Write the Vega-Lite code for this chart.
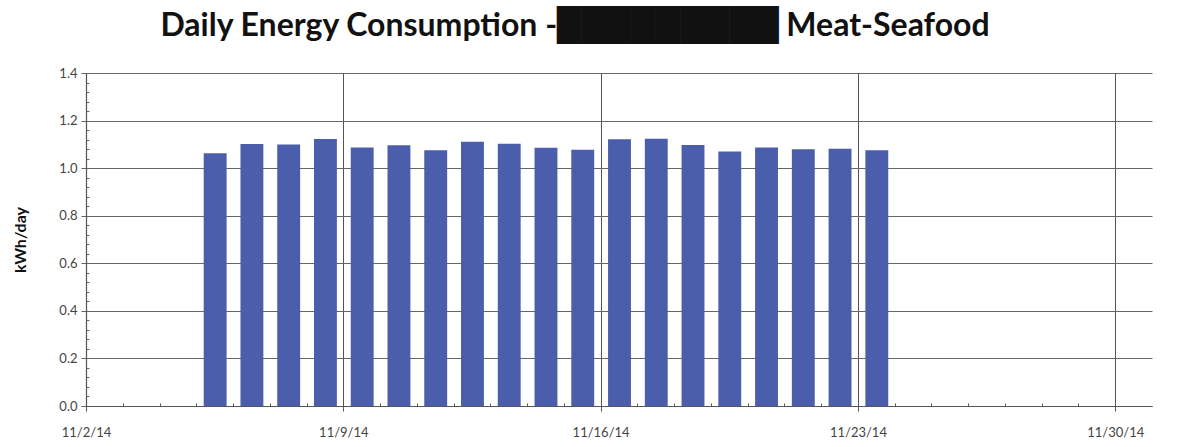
{
  "$schema": "https://vega.github.io/schema/vega-lite/v6.json",
  "width": 1066,
  "height": 333,
  "autosize": {"type": "none"},
  "padding": {"left": 86, "top": 73, "right": 27, "bottom": 41},
  "background": "white",
  "view": {"stroke": null},
  "title": {
    "text": "Daily Energy Consumption -█████████ Meat-Seafood",
    "font": "Lato, DejaVu Sans",
    "fontSize": 32,
    "fontWeight": "bold",
    "color": "#111111",
    "anchor": "middle",
    "dx": -44,
    "offset": 24
  },
  "data": {
    "values": [
      {"date": "2014-11-05T00:00:00", "kwh": 1.063},
      {"date": "2014-11-06T00:00:00", "kwh": 1.101},
      {"date": "2014-11-07T00:00:00", "kwh": 1.099},
      {"date": "2014-11-08T00:00:00", "kwh": 1.123},
      {"date": "2014-11-09T00:00:00", "kwh": 1.087},
      {"date": "2014-11-10T00:00:00", "kwh": 1.096},
      {"date": "2014-11-11T00:00:00", "kwh": 1.075},
      {"date": "2014-11-12T00:00:00", "kwh": 1.111},
      {"date": "2014-11-13T00:00:00", "kwh": 1.103},
      {"date": "2014-11-14T00:00:00", "kwh": 1.086},
      {"date": "2014-11-15T00:00:00", "kwh": 1.077},
      {"date": "2014-11-16T00:00:00", "kwh": 1.121},
      {"date": "2014-11-17T00:00:00", "kwh": 1.124},
      {"date": "2014-11-18T00:00:00", "kwh": 1.097},
      {"date": "2014-11-19T00:00:00", "kwh": 1.070},
      {"date": "2014-11-20T00:00:00", "kwh": 1.087},
      {"date": "2014-11-21T00:00:00", "kwh": 1.079},
      {"date": "2014-11-22T00:00:00", "kwh": 1.082},
      {"date": "2014-11-23T00:00:00", "kwh": 1.075}
    ]
  },
  "mark": {"type": "bar", "color": "#4a5eab", "width": {"band": 0.65}},
  "encoding": {
    "x": {
      "field": "date",
      "type": "temporal",
      "timeUnit": "yearmonthdate",
      "scale": {
        "domain": [
          {"year": 2014, "month": 11, "date": 2},
          {"year": 2014, "month": 12, "date": 1}
        ]
      },
      "axis": {
        "title": null,
        "values": [
          {"year": 2014, "month": 11, "date": 2},
          {"year": 2014, "month": 11, "date": 3},
          {"year": 2014, "month": 11, "date": 4},
          {"year": 2014, "month": 11, "date": 5},
          {"year": 2014, "month": 11, "date": 6},
          {"year": 2014, "month": 11, "date": 7},
          {"year": 2014, "month": 11, "date": 8},
          {"year": 2014, "month": 11, "date": 9},
          {"year": 2014, "month": 11, "date": 10},
          {"year": 2014, "month": 11, "date": 11},
          {"year": 2014, "month": 11, "date": 12},
          {"year": 2014, "month": 11, "date": 13},
          {"year": 2014, "month": 11, "date": 14},
          {"year": 2014, "month": 11, "date": 15},
          {"year": 2014, "month": 11, "date": 16},
          {"year": 2014, "month": 11, "date": 17},
          {"year": 2014, "month": 11, "date": 18},
          {"year": 2014, "month": 11, "date": 19},
          {"year": 2014, "month": 11, "date": 20},
          {"year": 2014, "month": 11, "date": 21},
          {"year": 2014, "month": 11, "date": 22},
          {"year": 2014, "month": 11, "date": 23},
          {"year": 2014, "month": 11, "date": 24},
          {"year": 2014, "month": 11, "date": 25},
          {"year": 2014, "month": 11, "date": 26},
          {"year": 2014, "month": 11, "date": 27},
          {"year": 2014, "month": 11, "date": 28},
          {"year": 2014, "month": 11, "date": 29},
          {"year": 2014, "month": 11, "date": 30}
        ],
        "labelExpr": "date(datum.value) % 7 == 2 ? timeFormat(datum.value, '%-m/%-d/%y') : ''",
        "labelOverlap": false,
        "labelFont": "Lato",
        "labelFontSize": 13,
        "labelColor": "#444444",
        "labelPadding": 15,
        "labelFlush": false,
        "grid": true,
        "gridColor": "#555555",
        "gridWidth": 1,
        "gridOpacity": {"condition": {"test": "date(datum.value) % 7 == 2", "value": 1}, "value": 0},
        "domainColor": "#555555",
        "domainWidth": 1.2,
        "tickColor": "#555555",
        "tickSize": {"condition": {"test": "date(datum.value) % 7 == 2", "value": 5}, "value": -3}
      }
    },
    "y": {
      "field": "kwh",
      "type": "quantitative",
      "scale": {"domain": [0, 1.4], "nice": false, "zero": true},
      "axis": {
        "title": "kWh/day",
        "titleFont": "Lato",
        "titleFontSize": 16,
        "titleFontWeight": "bold",
        "titleColor": "#111111",
        "titlePadding": 30,
        "values": [0, 0.04, 0.08, 0.12, 0.16, 0.2, 0.24, 0.28, 0.32, 0.36, 0.4, 0.44, 0.48, 0.52, 0.56, 0.6, 0.64, 0.68, 0.72, 0.76, 0.8, 0.84, 0.88, 0.92, 0.96, 1.0, 1.04, 1.08, 1.12, 1.16, 1.2, 1.24, 1.28, 1.32, 1.36, 1.4],
        "labelExpr": "abs(datum.value * 5 - round(datum.value * 5)) < 0.001 ? format(datum.value, '.1f') : ''",
        "labelOverlap": false,
        "labelFont": "Lato",
        "labelFontSize": 13,
        "labelColor": "#444444",
        "labelPadding": 4,
        "labelFlush": false,
        "grid": true,
        "gridColor": "#666666",
        "gridWidth": 1,
        "gridOpacity": {"condition": {"test": "abs(datum.value * 5 - round(datum.value * 5)) < 0.001", "value": 1}, "value": 0},
        "domainColor": "#555555",
        "domainWidth": 1.2,
        "tickColor": "#666666",
        "tickSize": {"condition": {"test": "abs(datum.value * 5 - round(datum.value * 5)) < 0.001", "value": 5}, "value": -3}
      }
    }
  }
}
